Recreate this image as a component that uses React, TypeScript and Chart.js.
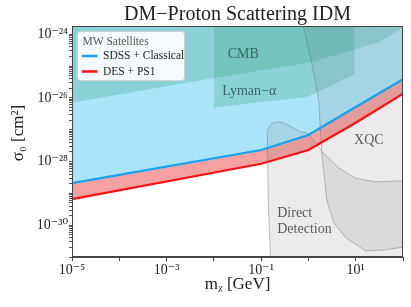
import React, { useEffect, useRef } from 'react';
import { Chart, registerables } from 'chart.js';

Chart.register(...registerables);

// ---- Data (GeV, cm^2) ----
const sdssMass = [1e-5, 1e-1, 1, 10, 100];
const sdssSigma = [2.1e-29, 2.3e-28, 6.8e-28, 5.2e-27, 3.9e-26];

const desMass = [1e-5, 1e-1, 1, 10, 100];
const desSigma = [6.6e-30, 8.5e-29, 2.3e-28, 1.66e-27, 1.35e-26];

const cmbMass = [1e-5, 1e-2, 1.1, 30, 100];
const cmbSigma = [7.1e-27, 4.2e-26, 1.3e-25, 5.5e-25, 1.6e-24];

const lymanMass = [1e-2, 1e-2, 0.93, 9.5, 9.5];
const lymanSigma = [1e-23, 5.0e-27, 1.07e-26, 5.5e-26, 1e-23];

const xqcMass = [0.72, 1.17, 1.66, 1.9, 2.45, 3.47, 6.17, 16.2, 38.9, 100, 300, 300];
const xqcSigma = [3e-24, 1.29e-25, 8.1e-27, 2.2e-28, 5.8e-30, 1.17e-30, 4.0e-31, 1.55e-31, 1.66e-31, 2.04e-31, 2.1e-31, 3e-24];

const ddMass = [0.162, 0.141, 0.135, 0.162, 0.219, 0.302, 0.631, 1.02, 1.9, 4.37, 9.77, 26.3, 81.3, 300, 300];
const ddSigma = [3e-32, 6.2e-30, 9.1e-28, 1.5e-27, 1.78e-27, 1.62e-27, 9.1e-28, 7.4e-28, 2.14e-28, 6.3e-29, 3.0e-29, 2.3e-29, 2.45e-29, 2.5e-29, 3e-32];

const regionLabelText = ['CMB', 'Lyman\u2212\u03b1', 'XQC', 'Direct', 'Detection'];
const regionLabelMass = [0.042, 0.056, 19, 0.219, 0.219];
const regionLabelSigma = [2.35e-25, 1.66e-26, 4.5e-28, 2.3e-30, 7.4e-31];

const xTickValues = [1e-5, 1e-4, 1e-3, 1e-2, 1e-1, 1, 10, 100];
const xTickLabels = ['10\u207b\u2075', '', '10\u207b\u00b3', '', '10\u207b\u00b9', '', '10\u00b9', ''];
const yTickValues = [1e-31, 1e-30, 1e-29, 1e-28, 1e-27, 1e-26, 1e-25, 1e-24];
const yTickLabels = ['', '10\u207b\u00b3\u2070', '', '10\u207b\u00b2\u2078', '', '10\u207b\u00b2\u2076', '', '10\u207b\u00b2\u2074'];
const yMinorFactors = [2, 3, 4, 5, 6, 7, 8, 9];

const chartTitle = 'DM\u2212Proton Scattering IDM';
const legendTitle = 'MW Satellites';

const SERIF = "'Liberation Serif', 'DejaVu Serif', serif";

const pts = (xs: number[], ys: number[]) => xs.map((x, i) => ({ x, y: ys[i] }));

const Y_MIN = 1e-31;
const Y_MAX = Math.pow(10, -23.74);

const overlayPlugin = {
  id: 'overlay',
  afterDatasetsDraw(chart: any) {
    const { ctx, scales } = chart;
    ctx.save();
    ctx.font = `14px ${SERIF}`;
    ctx.textBaseline = 'middle';
    regionLabelText.forEach((t, i) => {
      const px = scales.x.getPixelForValue(regionLabelMass[i]);
      const py = scales.y.getPixelForValue(regionLabelSigma[i]);
      const isGray = i >= 2;
      ctx.fillStyle = isGray ? '#5a5a5a' : '#3d665f';
      ctx.textAlign = i >= 3 ? 'left' : 'center';
      ctx.fillText(t, px, py);
    });
    ctx.restore();
  },
  afterDraw(chart: any) {
    const { ctx, chartArea: a } = chart;
    ctx.save();
    // title, centred over the plotting area
    ctx.font = `20px ${SERIF}`;
    ctx.fillStyle = '#222';
    ctx.textAlign = 'center';
    ctx.textBaseline = 'alphabetic';
    ctx.fillText(chartTitle, (a.left + a.right) / 2, 19.5);
    // frame
    ctx.strokeStyle = '#444';
    ctx.lineWidth = 1;
    ctx.strokeRect(a.left + 0.5, a.top + 0.5, a.right - a.left - 1, a.bottom - a.top - 1);
    // legend
    const lx = a.left + 5.5;
    const ly = a.top + 5.5;
    const lw = 107;
    const lh = 49;
    ctx.beginPath();
    if (ctx.roundRect) ctx.roundRect(lx, ly, lw, lh, 3);
    else ctx.rect(lx, ly, lw, lh);
    ctx.fillStyle = 'rgba(255,255,255,0.92)';
    ctx.fill();
    ctx.strokeStyle = '#d0d0d0';
    ctx.lineWidth = 1;
    ctx.stroke();
    ctx.font = `11.5px ${SERIF}`;
    ctx.textBaseline = 'middle';
    ctx.textAlign = 'left';
    ctx.fillStyle = '#555';
    ctx.fillText(legendTitle, lx + 5, ly + 10);
    const items = [chart.data.datasets[0], chart.data.datasets[1]];
    items.forEach((ds: any, i: number) => {
      const yy = ly + 24.5 + i * 15.5;
      ctx.beginPath();
      ctx.strokeStyle = ds.borderColor;
      ctx.lineWidth = 2.5;
      ctx.moveTo(lx + 4.5, yy);
      ctx.lineTo(lx + 20, yy);
      ctx.stroke();
      ctx.fillStyle = '#222';
      ctx.fillText(ds.label, lx + 25.5, yy);
    });
    ctx.restore();
  },
};

export default function App() {
  const ref = useRef<HTMLCanvasElement | null>(null);

  useEffect(() => {
    if (!ref.current) return;
    const regionBorder = 'rgba(110,110,110,0.55)';
    const chart = new Chart(ref.current, {
      type: 'line',
      data: {
        datasets: [
          {
            label: 'SDSS + Classical',
            data: pts(sdssMass, sdssSigma),
            borderColor: '#12a4f2',
            borderWidth: 2.2,
            fill: false,
            pointRadius: 0,
            order: 0,
          },
          {
            label: 'DES + PS1',
            data: pts(desMass, desSigma),
            borderColor: '#ff0f0f',
            borderWidth: 2.2,
            fill: false,
            pointRadius: 0,
            order: 1,
          },
          {
            label: 'SDSS region',
            data: pts(sdssMass, sdssSigma),
            borderWidth: 0,
            borderColor: 'rgba(0,0,0,0)',
            backgroundColor: 'rgba(0,170,240,0.33)',
            fill: 'end',
            pointRadius: 0,
            order: 10,
          },
          {
            label: 'DES band',
            data: pts(desMass, desSigma),
            borderWidth: 0,
            borderColor: 'rgba(0,0,0,0)',
            backgroundColor: 'rgba(230,30,30,0.42)',
            fill: 2,
            pointRadius: 0,
            order: 9,
          },
          {
            label: 'CMB',
            data: pts(cmbMass, cmbSigma),
            borderWidth: 0,
            borderColor: 'rgba(0,0,0,0)',
            backgroundColor: 'rgba(40,160,110,0.25)',
            fill: 'end',
            pointRadius: 0,
            order: 8,
          },
          {
            label: 'Lyman',
            data: pts(lymanMass, lymanSigma),
            borderWidth: 0,
            borderColor: 'rgba(0,0,0,0)',
            backgroundColor: 'rgba(40,160,110,0.25)',
            fill: 'shape',
            pointRadius: 0,
            order: 7,
          },
          {
            label: 'XQC',
            data: pts(xqcMass, xqcSigma),
            borderWidth: 0.8,
            borderColor: regionBorder,
            backgroundColor: 'rgba(130,130,130,0.16)',
            fill: 'shape',
            pointRadius: 0,
            order: 6,
          },
          {
            label: 'Direct Detection',
            data: pts(ddMass, ddSigma),
            borderWidth: 0.8,
            borderColor: regionBorder,
            backgroundColor: 'rgba(130,130,130,0.16)',
            fill: 'shape',
            pointRadius: 0,
            order: 5,
          },
        ],
      },
      options: {
        responsive: false,
        animation: false,
        events: [],
        layout: { padding: { left: 0, right: 8, top: 26, bottom: 0 } },
        plugins: {
          legend: { display: false },
          tooltip: { enabled: false },
          title: { display: false },
        },
        scales: {
          x: {
            type: 'logarithmic',
            min: 1e-5,
            max: 100,
            afterBuildTicks: (s: any) => {
              s.ticks = xTickValues.map((v) => ({ value: v }));
            },
            afterFit: (s: any) => {
              s.height = 50;
            },
            ticks: {
              autoSkip: false,
              maxRotation: 0,
              padding: 1,
              color: '#222',
              font: { family: SERIF, size: 14 },
              callback: (v: any) => {
                const i = xTickValues.indexOf(Number(v));
                return i >= 0 ? xTickLabels[i] : '';
              },
            },
            grid: { display: true, drawOnChartArea: false, drawTicks: true, tickLength: 4, color: '#444' },
            border: { display: true, color: '#444' },
            title: {
              display: true,
              text: 'm\u1d6a [GeV]',
              color: '#222',
              font: { family: SERIF, size: 17 },
              padding: { top: 0, bottom: 12 },
            },
          },
          y: {
            type: 'logarithmic',
            min: Y_MIN,
            max: Y_MAX,
            afterBuildTicks: (s: any) => {
              const t: any[] = [];
              yTickValues.forEach((v) => {
                t.push({ value: v });
                yMinorFactors.forEach((f) => {
                  const m = v * f;
                  if (m < Y_MAX) t.push({ value: m });
                });
              });
              t.sort((a, b) => a.value - b.value);
              s.ticks = t;
            },
            afterFit: (s: any) => {
              s.width = 72;
            },
            ticks: {
              autoSkip: false,
              padding: 1,
              color: '#222',
              font: { family: SERIF, size: 14 },
              callback: (v: any) => {
                const i = yTickValues.indexOf(Number(v));
                return i >= 0 ? yTickLabels[i] : '';
              },
            },
            grid: { display: true, drawOnChartArea: false, drawTicks: true, tickLength: 3, color: '#555' },
            border: { display: true, color: '#444' },
            title: {
              display: true,
              text: '\u00a0\u00a0\u00a0\u00a0\u03c3\u2080 [cm\u00b2]',
              color: '#222',
              font: { family: SERIF, size: 17 },
              padding: { top: 8, bottom: 0 },
            },
          },
        },
      },
      plugins: [overlayPlugin],
    } as any);
    return () => chart.destroy();
  }, []);

  return (
    <div style={{ position: 'fixed', left: 0, top: 0, width: 411, height: 307, background: '#fff' }}>
      <canvas ref={ref} width={411} height={307} style={{ display: 'block', width: 411, height: 307 }} />
    </div>
  );
}
